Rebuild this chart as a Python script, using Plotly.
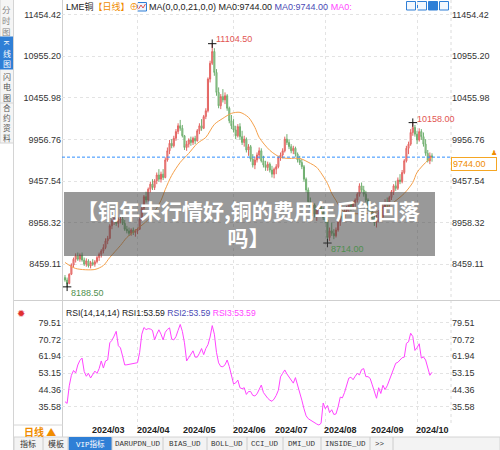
import plotly.graph_objects as go
import pandas as pd

# ---------------- data ----------------
open_ = [8300, 8270, 8230, 8340, 8450, 8520, 8560, 8520, 8570, 8510,
         8460, 8500, 8440, 8480, 8460, 8490, 8540, 8580, 8620, 8660,
         8740, 8770, 8920, 8980, 9010, 8950, 8990, 9000, 8950, 8880,
         8860, 8830, 8870, 8840, 8860, 8880, 9000, 9130, 9270, 9230,
         9360, 9420, 9380, 9460, 9530, 9480, 9540, 9500, 9710, 9820,
         9910, 9880, 9970, 10050, 10120, 10090, 10000, 9860, 9900, 9950,
         9920, 9970, 9940, 10060, 10120, 10090, 10230, 10300, 10680, 10870,
         11010, 10760, 10520, 10360, 10470, 10430, 10480, 10330, 10180, 10120,
         10070, 10000, 10110, 9990, 9920, 9960, 9830, 9870, 9720, 9650,
         9710, 9770, 9820, 9700, 9650, 9620, 9660, 9590, 9540, 9600,
         9630, 9740, 9770, 9820, 9960, 9920, 9870, 9820, 9850, 9780,
         9710, 9680, 9630, 9480, 9350, 9210, 9130, 9170, 9060, 9110,
         9140, 9080, 9020, 8990, 8780, 8860, 8830, 8800, 8870, 8970,
         9040, 9010, 9100, 9130, 9180, 9150, 9200, 9230, 9300, 9400,
         9350, 9300, 9230, 9130, 9090, 9020, 8960, 8990, 9080, 9030,
         9150, 9200, 9170, 9260, 9330, 9400, 9370, 9470, 9450, 9560,
         9700, 9850, 9900, 10040, 10100, 10020, 9950, 10050, 9990, 9900,
         9790, 9700, 9760]
high = [8330, 8300, 8350, 8470, 8540, 8590, 8600, 8590, 8600, 8540,
        8530, 8520, 8500, 8520, 8510, 8560, 8600, 8640, 8700, 8770,
        8800, 8940, 9000, 9050, 9030, 9020, 9040, 9030, 8990, 8920,
        8900, 8890, 8900, 8880, 8900, 9020, 9150, 9290, 9330, 9380,
        9450, 9480, 9480, 9560, 9600, 9570, 9600, 9740, 9860, 9950,
        9960, 10000, 10080, 10150, 10190, 10130, 10010, 9940, 9970, 9990,
        9990, 10000, 10080, 10150, 10200, 10250, 10330, 10700, 10900, 11104.5,
        11050, 10800, 10580, 10500, 10560, 10520, 10500, 10350, 10250, 10200,
        10120, 10140, 10150, 10060, 10000, 9980, 9900, 9890, 9780, 9750,
        9800, 9860, 9850, 9760, 9700, 9690, 9680, 9640, 9620, 9660,
        9760, 9800, 9850, 9990, 10020, 9960, 9900, 9880, 9870, 9800,
        9760, 9720, 9650, 9500, 9380, 9260, 9200, 9190, 9150, 9180,
        9200, 9140, 9090, 9010, 8900, 8960, 8880, 8900, 9000, 9060,
        9080, 9120, 9160, 9200, 9210, 9220, 9250, 9320, 9430, 9440,
        9400, 9340, 9250, 9180, 9120, 9060, 9050, 9110, 9120, 9180,
        9240, 9260, 9280, 9350, 9420, 9460, 9500, 9540, 9590, 9720,
        9880, 9930, 10080, 10158, 10130, 10060, 10090, 10080, 10040, 9960,
        9830, 9800, 9790]
low = [8250, 8188.5, 8220, 8330, 8420, 8480, 8500, 8490, 8490, 8440,
       8430, 8420, 8410, 8440, 8430, 8470, 8500, 8540, 8590, 8640,
       8700, 8760, 8880, 8930, 8920, 8900, 8950, 8930, 8860, 8830,
       8800, 8800, 8810, 8790, 8820, 8870, 8980, 9100, 9200, 9210,
       9320, 9350, 9350, 9420, 9450, 9440, 9470, 9490, 9690, 9780,
       9850, 9860, 9940, 10020, 10060, 9980, 9830, 9820, 9860, 9880,
       9890, 9900, 9930, 10020, 10060, 10080, 10200, 10280, 10640, 10850,
       10720, 10480, 10330, 10320, 10400, 10380, 10300, 10150, 10080, 10040,
       9960, 9980, 9950, 9890, 9870, 9800, 9760, 9690, 9620, 9600,
       9680, 9720, 9680, 9620, 9580, 9580, 9560, 9500, 9490, 9540,
       9610, 9700, 9730, 9800, 9890, 9840, 9790, 9780, 9750, 9680,
       9650, 9600, 9450, 9320, 9180, 9100, 9040, 9020, 8980, 9060,
       9050, 8990, 8950, 8714, 8740, 8800, 8760, 8780, 8850, 8920,
       8980, 8990, 9060, 9090, 9100, 9110, 9150, 9200, 9270, 9320,
       9270, 9200, 9100, 9060, 8990, 8920, 8900, 8960, 9000, 9010,
       9120, 9130, 9150, 9230, 9290, 9340, 9350, 9420, 9430, 9540,
       9680, 9780, 9880, 10000, 9990, 9900, 9930, 9950, 9870, 9760,
       9680, 9660, 9690]
close = [8270, 8230, 8340, 8450, 8520, 8560, 8520, 8570, 8510, 8460,
         8500, 8440, 8480, 8460, 8490, 8540, 8580, 8620, 8660, 8740,
         8770, 8920, 8980, 9010, 8950, 8990, 9000, 8950, 8880, 8860,
         8830, 8870, 8840, 8860, 8880, 9000, 9130, 9270, 9230, 9360,
         9420, 9380, 9460, 9530, 9480, 9540, 9500, 9710, 9820, 9910,
         9880, 9970, 10050, 10120, 10090, 10000, 9860, 9900, 9950, 9920,
         9970, 9940, 10060, 10120, 10090, 10230, 10300, 10680, 10870, 11010,
         10760, 10520, 10360, 10470, 10430, 10480, 10330, 10180, 10120, 10070,
         10000, 10110, 9990, 9920, 9960, 9830, 9870, 9720, 9650, 9710,
         9770, 9820, 9700, 9650, 9620, 9660, 9590, 9540, 9600, 9630,
         9740, 9770, 9820, 9960, 9920, 9870, 9820, 9850, 9780, 9710,
         9680, 9630, 9480, 9350, 9210, 9130, 9170, 9060, 9110, 9140,
         9080, 9020, 8990, 8780, 8860, 8830, 8800, 8870, 8970, 9040,
         9010, 9100, 9130, 9180, 9150, 9200, 9230, 9300, 9400, 9350,
         9300, 9230, 9130, 9090, 9020, 8960, 8990, 9080, 9030, 9150,
         9200, 9170, 9260, 9330, 9400, 9370, 9470, 9450, 9560, 9700,
         9850, 9900, 10040, 10100, 10020, 9950, 10050, 9990, 9900, 9790,
         9700, 9760, 9744]

rsi = [38.2, 37.3, 46.5, 52.0, 54.5, 53.2, 57.4, 59.8, 61.0, 54.0,
       51.5, 53.0, 50.6, 52.8, 54.2, 53.0, 55.5, 59.5, 55.8, 59.5,
       60.0, 69.0, 70.3, 72.5, 75.0, 67.5, 66.3, 62.0, 57.4, 57.5,
       57.7, 58.0, 58.2, 58.4, 58.6, 64.0, 73.5, 77.0, 75.9, 76.4,
       76.2, 75.5, 70.5, 73.5, 75.8, 73.5, 70.5, 74.5, 76.0, 76.8,
       71.0, 70.5, 72.2, 75.5, 78.6, 75.0, 69.0, 59.5, 61.5, 63.0,
       64.8, 61.5, 61.5, 63.5, 66.0, 62.8, 66.0, 68.0, 72.0, 78.0,
       73.5, 64.0, 58.5, 56.6, 56.5, 57.5, 60.0, 56.6, 52.0, 47.5,
       48.0, 49.5, 45.5, 45.0, 45.5, 42.0, 43.5, 43.5, 41.5, 41.2,
       42.3, 44.5, 46.9, 43.0, 41.2, 40.0, 39.0, 38.4, 39.6, 41.5,
       44.2, 51.2, 53.0, 54.8, 52.7, 51.2, 50.0, 47.9, 50.8, 47.2,
       43.5, 39.0, 34.5, 30.8, 29.3, 28.5, 27.9, 27.2, 26.5, 26.0,
       26.9, 37.5, 34.5, 36.2, 32.5, 34.0, 31.5, 31.8, 35.5, 40.6,
       40.2, 43.0, 47.5, 50.5, 51.0, 49.7, 51.5, 53.0, 52.2, 55.0,
       55.5, 51.3, 51.3, 50.4, 47.0, 42.8, 40.0, 45.5, 42.5, 46.8,
       44.5, 46.5, 49.5, 52.3, 55.5, 58.3, 58.8, 60.2, 61.2, 61.5,
       68.7, 69.5, 74.0, 72.3, 65.0, 66.5, 68.5, 61.0, 61.6, 60.0,
       55.5, 52.0, 53.59]

ma_idx = [0, 5, 14, 18, 21, 26, 29, 33, 37, 40, 42, 45, 47, 50, 54, 58, 62, 66,
          70, 74, 78, 82, 86, 89, 91, 96, 101, 105, 110, 115, 118, 123, 125,
          127, 130, 134, 141, 147, 152, 159, 163, 165, 170, 172]
ma_val = [8481, 8409, 8397, 8445, 8541, 8685, 8781, 8865, 8949, 9021, 9093, 9225,
          9357, 9525, 9681, 9789, 9909, 9981, 10137, 10209, 10269, 10281, 10221,
          10101, 9981, 9825, 9741, 9729, 9729, 9669, 9621, 9429, 9309, 9225, 9105,
          9069, 9069, 9093, 9165, 9309, 9441, 9561, 9705, 9744]

price_ticks = [11454.42, 10955.20, 10455.98, 9956.76, 9457.54, 8958.32, 8459.11]
rsi_ticks = [79.51, 70.72, 61.94, 53.15, 44.36, 35.58]
month_labels = ["2024/03", "2024/04", "2024/05", "2024/06",
                "2024/07", "2024/08", "2024/09", "2024/10"]
grid_months = ["2024/04", "2024/06", "2024/08", "2024/10"]
banner_lines = ["【铜年末行情好,铜的费用年后能回落", "吗】"]
tab_names = ["指标", "模板", "VIP指标", "DARUPDN_UD", "BIAS_UD", "BOLL_UD",
             "CCI_UD", "DMI_UD", "INSIDE_UD", ">>"]

# ---------------- helpers ----------------
W, H = 500, 450
def PX(x): return x / W
def PY(y): return 1 - y / H

dates = [d.strftime("%Y-%m-%d") for d in pd.bdate_range("2024-02-13", periods=len(close))]
def first_of(label):
    key = label.replace("/", "-")
    for d in dates:
        if d.startswith(key):
            return d
    return dates[-1]
month_first = [first_of(m) for m in month_labels]
grid_dates = [first_of(m) for m in grid_months]

FONT = "Liberation Sans, Arial, Noto Sans CJK SC, sans-serif"
CJK = "Noto Sans CJK SC, sans-serif"
RED = "#e25552"
GREEN = "#62a862"
BLUE = "#2f7fd6"
ORANGE = "#f08c00"
MAG = "#ff44ff"
PURP = "#4a4ab5"
GRID = "#e3e3e3"

fig = go.Figure()

fig.add_trace(go.Candlestick(
    x=dates, open=open_, high=high, low=low, close=close,
    increasing=dict(line=dict(color=RED, width=1), fillcolor="#eb9a98"),
    decreasing=dict(line=dict(color=GREEN, width=1), fillcolor="#a8d4a0"),
    whiskerwidth=0, opacity=0.9, xaxis="x", yaxis="y", showlegend=False, hoverinfo="skip"))

fig.add_trace(go.Scatter(
    x=[dates[i] for i in ma_idx], y=ma_val, mode="lines",
    line=dict(color="#f5a04a", width=1, shape="spline", smoothing=0.8),
    xaxis="x", yaxis="y", showlegend=False, hoverinfo="skip"))

# extremes
hi_i = high.index(max(high))
lo_i = low.index(min(low))
lo2_i = hi_i + low[hi_i:].index(min(low[hi_i:]))
hi2_i = lo2_i + high[lo2_i:].index(max(high[lo2_i:]))
ext = [(hi_i, high[hi_i], RED, 5), (hi2_i, high[hi2_i], RED, 4),
       (lo2_i, low[lo2_i], "#4f8f4f", -6), (lo_i, low[lo_i], "#4f8f4f", -6)]
fig.add_trace(go.Scatter(
    x=[dates[e[0]] for e in ext], y=[e[1] for e in ext], mode="markers",
    marker=dict(symbol="cross-thin", size=6, line=dict(color="#111", width=1)),
    xaxis="x", yaxis="y", showlegend=False, hoverinfo="skip"))

fig.add_trace(go.Scatter(
    x=dates[:len(rsi)], y=rsi, mode="lines", line=dict(color=MAG, width=1),
    xaxis="x2", yaxis="y2", showlegend=False, hoverinfo="skip"))

# invisible anchors for right-hand axes
fig.add_trace(go.Scatter(x=[dates[0]], y=[price_ticks[0]], mode="markers",
                         marker=dict(opacity=0), xaxis="x", yaxis="y3",
                         showlegend=False, hoverinfo="skip"))
fig.add_trace(go.Scatter(x=[dates[0]], y=[rsi_ticks[0]], mode="markers",
                         marker=dict(opacity=0), xaxis="x2", yaxis="y4",
                         showlegend=False, hoverinfo="skip"))

# axis geometry
n = len(close)
xrange = [-1.4, n - 1 + 8.9]
p_top = 11454.42 + 12.5 * 11.991
p_bot = 8459.11 - 35.7 * 11.991
r_top = 79.51 + 17.7 * 0.523
r_bot = 35.58 - 21.3 * 0.523

tickfont = dict(family=FONT, size=9, color="#333")
common_y = dict(tickfont=tickfont, ticks="", zeroline=False, showline=False,
                fixedrange=True, automargin=False)
common_x = dict(type="category", categoryorder="array", categoryarray=dates,
                range=xrange, tickvals=grid_dates, showticklabels=False,
                showgrid=True, gridcolor=GRID, griddash="dot", zeroline=False,
                showline=False, ticks="", fixedrange=True, automargin=False)

fig.update_layout(
    template="none",
    width=W, height=H, margin=dict(l=0, r=0, t=0, b=0, pad=0),
    paper_bgcolor="white", plot_bgcolor="white",
    font=dict(family=FONT, size=9, color="#333"),
    showlegend=False,
    xaxis=dict(domain=[PX(62), PX(451)], anchor="y", rangeslider=dict(visible=False), **common_x),
    xaxis2=dict(domain=[PX(62), PX(451)], anchor="y2", matches="x", **common_x),
    yaxis=dict(domain=[PY(300), PY(2)], range=[p_bot, p_top], tickvals=price_ticks,
               ticktext=[f"{v:.2f}" for v in price_ticks], side="left",
               showgrid=True, gridcolor=GRID, griddash="dot", **common_y),
    yaxis3=dict(overlaying="y", range=[p_bot, p_top], tickvals=price_ticks,
                ticktext=[f"{v:.2f}" for v in price_ticks], side="right",
                showgrid=False, **common_y),
    yaxis2=dict(domain=[PY(428), PY(305)], range=[r_bot, r_top], tickvals=rsi_ticks,
                ticktext=[f"{v:.2f}" for v in rsi_ticks], side="left",
                showgrid=True, gridcolor=GRID, griddash="dot", **common_y),
    yaxis4=dict(overlaying="y2", range=[r_bot, r_top], tickvals=rsi_ticks,
                ticktext=[f"{v:.2f}" for v in rsi_ticks], side="right",
                showgrid=False, **common_y),
)

shapes = []
ann = []

def rect(x0, y0, x1, y1, fill=None, line="#d0d0d0", lw=1, layer="below"):
    shapes.append(dict(type="rect", xref="paper", yref="paper",
                       x0=PX(x0), x1=PX(x1), y0=PY(y1), y1=PY(y0),
                       fillcolor=fill if fill else "rgba(0,0,0,0)",
                       line=dict(color=line, width=lw), layer=layer))

def hline(x0, x1, y, color="#d6d6d6", dash="solid", layer="below"):
    shapes.append(dict(type="line", xref="paper", yref="paper",
                       x0=PX(x0), x1=PX(x1), y0=PY(y), y1=PY(y),
                       line=dict(color=color, width=1, dash=dash), layer=layer))

def vline(x, y0, y1, color="#d6d6d6", dash="solid", layer="below"):
    shapes.append(dict(type="line", xref="paper", yref="paper",
                       x0=PX(x), x1=PX(x), y0=PY(y0), y1=PY(y1),
                       line=dict(color=color, width=1, dash=dash), layer=layer))

def text(x, y, s, size=9, color="#333", anchor="left", family=FONT, bold=False, angle=0):
    ann.append(dict(xref="paper", yref="paper", x=PX(x), y=PY(y), text=f"<b>{s}</b>" if bold else s,
                    showarrow=False, xanchor=anchor, yanchor="middle", textangle=angle,
                    font=dict(family=family, size=size, color=color), borderpad=0))

def span(s, color):
    return f"<span style='color:{color}'>{s}</span>"

# chart frame lines
vline(62.5, 0, 437, color="#cfcfcf")
vline(451, 0, 425, color="#dcdcdc", dash="dot")
hline(14, 500, 300.5, color="#cfcfcf")
hline(14, 63, 425, color="#d6d6d6")

# last-price dashed line
shapes.append(dict(type="line", xref="paper", yref="y", x0=PX(62), x1=PX(451),
                   y0=close[-1], y1=close[-1],
                   line=dict(color="#2f8fff", width=1, dash="3px,2px"), layer="above"))

# left strip
rect(0, -1, 13.5, 143, fill="#f5f5f5", line="#d4d4d4")
rect(0, 37, 13.5, 69, fill=BLUE, line=BLUE)
hline(0, 13.5, 103, color="#d4d4d4")
vline(13.5, 0, 450, color="#d4d4d4")
text(6.8, 20, "<br>".join("分时图"), size=8.5, color="#888", anchor="center", family=CJK)
text(6.8, 43.5, "K", size=7, color="white", anchor="center", angle=90)
text(6.8, 58.5, "<br>".join("线图"), size=8, color="white", anchor="center", family=CJK)
text(6.8, 87.5, "<br>".join("闪电图"), size=8, color="#555", anchor="center", family=CJK)
text(6.8, 122.5, "<br>".join("合约资料"), size=7.6, color="#555", anchor="center", family=CJK)

# header line
text(65, 7, "LME铜" + span("【日线】⊕", ORANGE), size=9, color="#222")
rect(137.5, 2.5, 146.5, 11, fill="#eef4fc", line=BLUE)
shapes.append(dict(type="path", xref="paper", yref="paper",
                   path=f"M {PX(138.5)} {PY(9)} L {PX(141)} {PY(5)} L {PX(143)} {PY(8)} L {PX(145.5)} {PY(4)}",
                   line=dict(color=RED, width=1)))
ma_txt = (f"MA(0,0,0,21,0,0) MA0:{close[-1]:.2f} "
          + span(f"MA0:{close[-1]:.2f}", PURP) + " " + span("MA0:", MAG))
text(147.5, 7, ma_txt, size=9, color="#222")
for i, x0 in enumerate([406.5, 417.5, 428.5, 439.5]):
    rect(x0, 1.5, x0 + 9, 10, fill=BLUE if i == 2 else "#f3f8fe", line=BLUE)

# extreme labels
for idx, val, col, ys in ext:
    ann.append(dict(xref="x", yref="y", x=dates[idx], y=val, text=f"{val:.2f}",
                    showarrow=False, xanchor="left", yanchor="middle",
                    xshift=3, yshift=ys, font=dict(family=FONT, size=9, color=col),
                    borderpad=0))

# right price box
ann.append(dict(xref="paper", yref="y", x=PX(451), y=close[-1], yshift=-7,
                text=f"{close[-1]:.2f}", showarrow=False, xanchor="left", yanchor="middle",
                font=dict(family=FONT, size=9, color=ORANGE), bgcolor="white",
                bordercolor="#f5a623", borderwidth=1, borderpad=1, width=42, align="left"))
text(494, 152.5, "♟", size=7, color=ORANGE, anchor="center")

# banner overlay
rect(64, 192, 435, 256, fill="rgba(70,70,70,0.55)", line="rgba(0,0,0,0)", lw=0, layer="above")
text(248, 223.5, "<br>".join(banner_lines), size=21, color="white", anchor="center",
     family=CJK, bold=True)

# RSI header
text(21, 313, "✹", size=10, color="#e03030", anchor="center")
rsi_txt = (f"RSI(14,14,14) RSI1:{rsi[-1]:.2f} " + span(f"RSI2:{rsi[-1]:.2f}", PURP)
           + " " + span(f"RSI3:{rsi[-1]:.2f}", MAG))
text(65, 313, rsi_txt, size=8.6, color="#222")

# date labels
for d, lab in zip(month_first, month_labels):
    ann.append(dict(xref="x2", yref="paper", x=d, y=PY(430), text=f"<b>{lab}</b>",
                    showarrow=False, xanchor="left", yanchor="middle", xshift=-2,
                    font=dict(family=FONT, size=9, color="#222"), borderpad=0))
text(23, 431.5, "<b>日线 ▲</b>", size=10, color=ORANGE, family=CJK)

# bottom tabs
rect(14, 437, 500, 451, fill="#f3f3f3", line="#d4d4d4")
rect(69, 437.5, 111.5, 450, fill=BLUE, line=BLUE)
for x in [43, 68, 112, 163, 207, 247, 283, 321, 370, 393]:
    vline(x, 437, 450, color="#cccccc")
tab_x = [27.5, 55.5, 90, 137.5, 185, 227, 265, 301.5, 345, 380]
for name, xc in zip(tab_names, tab_x):
    col = "white" if name == "VIP指标" else "#333"
    fam = CJK if name in ("指标", "模板") else "Liberation Mono, Noto Sans CJK SC, monospace"
    text(xc, 443.5, name, size=8 if fam == CJK else 7.5, color=col, anchor="center", family=fam)

fig.update_layout(shapes=shapes, annotations=ann)
fig.write_html("out.html", config={"displayModeBar": False},
               post_script="document.body.style.margin='0';document.body.style.overflow='hidden';")
